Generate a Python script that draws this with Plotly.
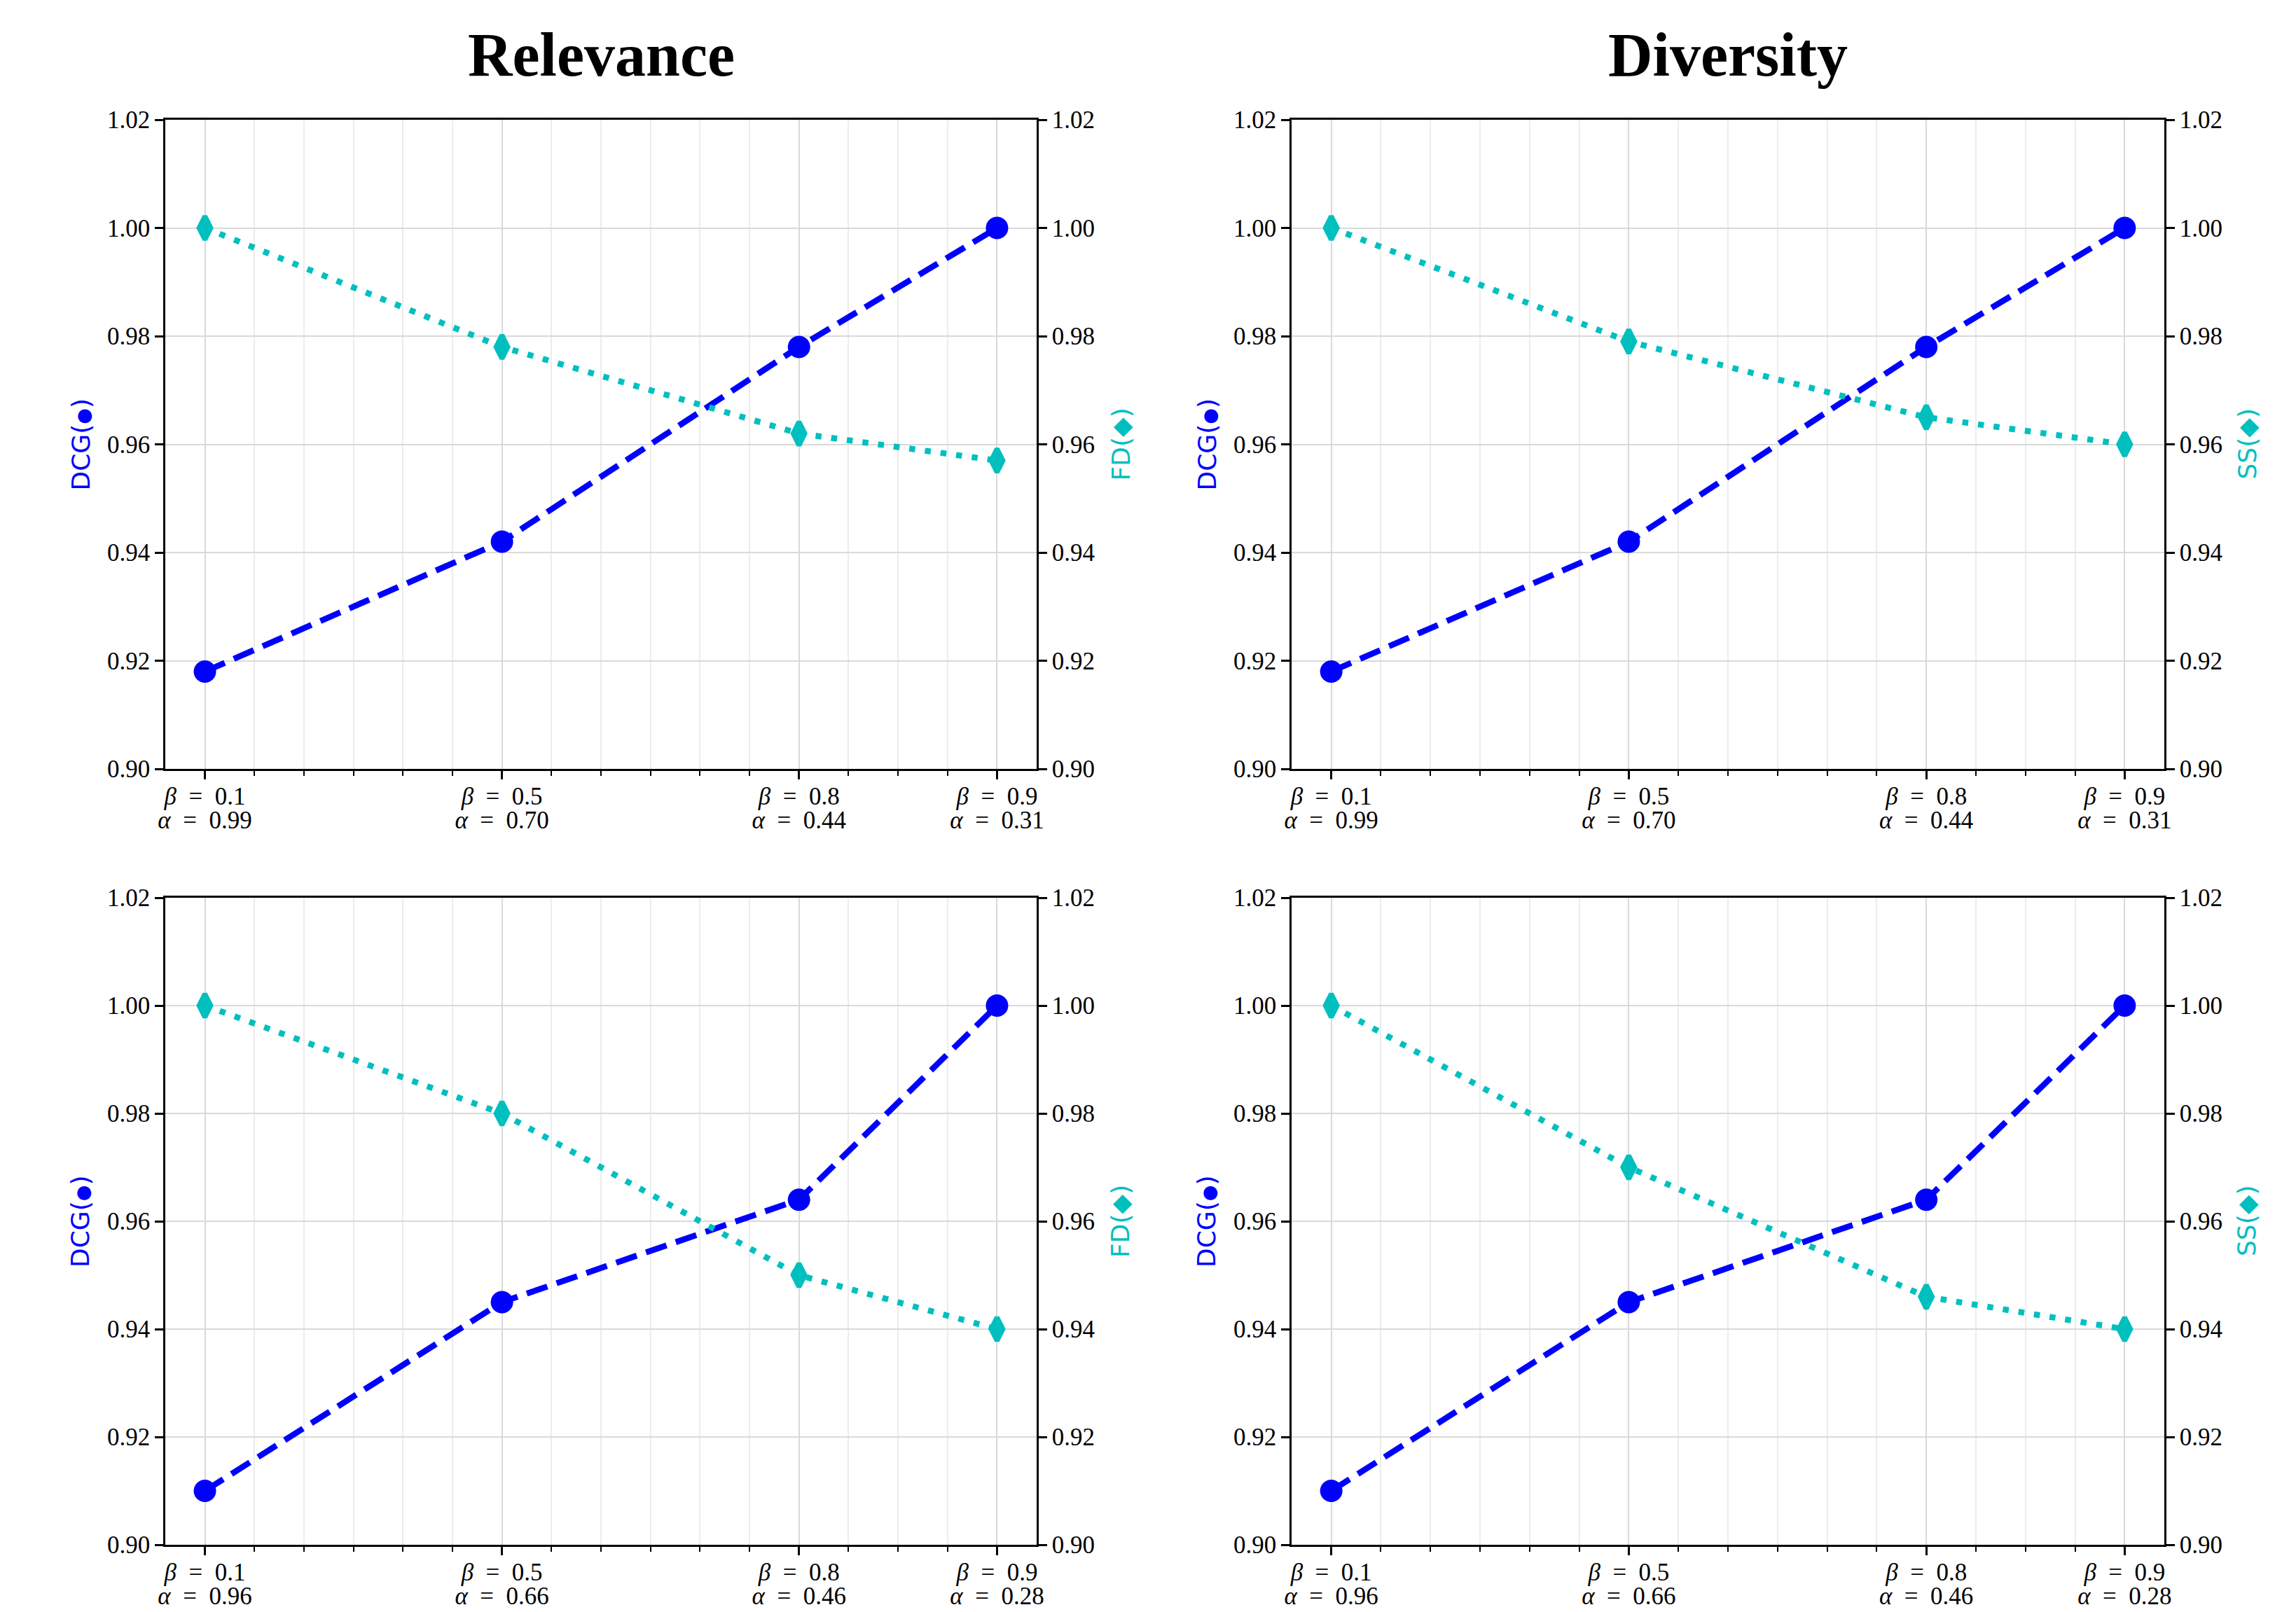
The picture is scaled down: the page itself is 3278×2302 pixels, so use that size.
import plotly.graph_objects as go

# ---------------- data ----------------
x_pos = [0, 6, 12, 16]
beta_labels = ["0.1", "0.5", "0.8", "0.9"]
alpha_top = ["0.99", "0.70", "0.44", "0.31"]
alpha_bottom = ["0.96", "0.66", "0.46", "0.28"]

dcg_rel_top = [0.918, 0.942, 0.978, 1.000]
fd_rel_top = [1.000, 0.978, 0.962, 0.957]
dcg_div_top = [0.918, 0.942, 0.978, 1.000]
ss_div_top = [1.000, 0.979, 0.965, 0.960]

dcg_rel_bot = [0.910, 0.945, 0.964, 1.000]
fd_rel_bot = [1.000, 0.980, 0.950, 0.940]
dcg_div_bot = [0.910, 0.945, 0.964, 1.000]
ss_div_bot = [1.000, 0.970, 0.946, 0.940]

y_ticks = [0.90, 0.92, 0.94, 0.96, 0.98, 1.00, 1.02]
col_titles = ["Relevance", "Diversity"]

# ---------------- style ----------------
W, H = 3278, 2302
OFF = 8  # default page body margin
BLUE = "#0000FF"
CYAN = "#00BFBF"
LW = 8.5
SERIF = "Liberation Serif, DejaVu Serif, serif"
SANS = "DejaVu Sans, sans-serif"
TICKFONT = dict(family=SERIF, size=35, color="black")

def px_x(p):
    return (p - OFF) / W

def px_y(p):
    return 1 - (p - OFF) / H

col_dom = [(px_x(236), px_x(1480)), (px_x(1844), px_x(3090))]
row_dom = [(px_y(1098), px_y(171)), (px_y(2206), px_y(1282))]

panels = [
    (0, 0, dcg_rel_top, fd_rel_top, "FD", alpha_top),
    (0, 1, dcg_div_top, ss_div_top, "SS", alpha_top),
    (1, 0, dcg_rel_bot, fd_rel_bot, "FD", alpha_bottom),
    (1, 1, dcg_div_bot, ss_div_bot, "SS", alpha_bottom),
]

fig = go.Figure()
layout = dict(
    width=W, height=H,
    margin=dict(l=0, r=0, t=0, b=0, pad=0),
    paper_bgcolor="white", plot_bgcolor="white",
    showlegend=False,
    annotations=[],
)

for i, (r, c, dcg, other, oname, alphas) in enumerate(panels):
    xi = i + 1
    xa = i + 5  # overlay axis carrying the alpha row of the tick labels
    yl = 2 * i + 1
    yr = 2 * i + 2
    xname = "x" if xi == 1 else f"x{xi}"
    ylname = "y" if yl == 1 else f"y{yl}"
    yrname = f"y{yr}"

    beta_text = [f"<i>β</i>  =  {b}" for b in beta_labels]
    alpha_text = [f"<i>α</i>  =  {a}" for a in alphas]
    span = x_pos[-1] - x_pos[0]
    xr = [x_pos[0] - 0.05 * span, x_pos[-1] + 0.05 * span]

    layout[f"xaxis{xi if xi > 1 else ''}"] = dict(
        domain=list(col_dom[c]), anchor=ylname, range=xr, automargin=False,
        tickmode="array", tickvals=x_pos, ticktext=beta_text,
        ticks="outside", ticklen=12, tickwidth=2.5, tickcolor="black",
        ticklabelstandoff=-6,
        showline=True, linecolor="black", linewidth=2.5, mirror=True,
        showgrid=True, gridcolor="#d9d9d9", gridwidth=2,
        zeroline=False, tickfont=TICKFONT,
        minor=dict(tickmode="linear", tick0=x_pos[0], dtick=1,
                   ticks="outside", ticklen=7, tickwidth=2, tickcolor="black",
                   showgrid=True, gridcolor="#ececec", gridwidth=2),
    )
    layout[f"xaxis{xa}"] = dict(
        overlaying=xname, anchor=ylname, side="bottom", range=xr, automargin=False,
        tickmode="array", tickvals=x_pos, ticktext=alpha_text,
        ticks="outside", ticklen=12, tickwidth=0, tickcolor="rgba(0,0,0,0)",
        ticklabelstandoff=30,
        showline=False, showgrid=False, zeroline=False, tickfont=TICKFONT,
    )
    layout[f"yaxis{yl if yl > 1 else ''}"] = dict(
        domain=list(row_dom[r]), anchor=xname, range=[0.90, 1.02], automargin=False,
        tickmode="array", tickvals=y_ticks, tickformat=".2f",
        ticks="outside", ticklen=12, tickwidth=2.5, tickcolor="black",
        showline=True, linecolor="black", linewidth=2.5,
        showgrid=True, gridcolor="#d9d9d9", gridwidth=2,
        zeroline=False, tickfont=TICKFONT,
    )
    layout[f"yaxis{yr}"] = dict(
        overlaying=ylname, anchor=xname, side="right", range=[0.90, 1.02], automargin=False,
        tickmode="array", tickvals=y_ticks, tickformat=".2f",
        ticks="outside", ticklen=12, tickwidth=2.5, tickcolor="black",
        showline=True, linecolor="black", linewidth=2.5,
        showgrid=False, zeroline=False, tickfont=TICKFONT,
    )

    fig.add_trace(go.Scatter(
        x=x_pos, y=dcg, xaxis=xname, yaxis=ylname, mode="lines+markers",
        line=dict(color=BLUE, width=LW, dash="31px,14px"),
        marker=dict(symbol="circle", size=32, color=BLUE),
        cliponaxis=False,
    ))
    fig.add_trace(go.Scatter(
        x=x_pos, y=other, xaxis=xname, yaxis=yrname, mode="lines+markers",
        line=dict(color=CYAN, width=LW, dash="8.5px,14px"),
        marker=dict(symbol="diamond-tall", size=24, color=CYAN,
                    line=dict(color=CYAN, width=7)),
        cliponaxis=False,
    ))
    # invisible trace binding the alpha overlay axis
    fig.add_trace(go.Scatter(
        x=x_pos, y=dcg, xaxis=f"x{xa}", yaxis=ylname, mode="markers",
        marker=dict(size=1, opacity=0), hoverinfo="skip",
    ))

    y0, y1 = row_dom[r]
    ymid = (y0 + y1) / 2
    layout["annotations"].append(dict(
        text="DCG(<span style='font-size:26px'>●</span>)",
        x=px_x(115) if c == 0 else px_x(115 + 1608), y=ymid,
        xref="paper", yref="paper", showarrow=False, textangle=-90,
        xanchor="center", yanchor="middle",
        font=dict(family=SANS, size=36, color=BLUE),
    ))
    layout["annotations"].append(dict(
        text=f"{oname}(◆)", x=px_x(1600) if c == 0 else px_x(1600 + 1608), y=ymid,
        xref="paper", yref="paper", showarrow=False, textangle=-90,
        xanchor="center", yanchor="middle",
        font=dict(family=SANS, size=36, color=CYAN),
    ))

for c, t in enumerate(col_titles):
    x0, x1 = col_dom[c]
    layout["annotations"].append(dict(
        text=f"<b>{t}</b>", x=(x0 + x1) / 2, y=px_y(79),
        xref="paper", yref="paper", showarrow=False,
        xanchor="center", yanchor="middle",
        font=dict(family=SERIF, size=88, color="black"),
    ))

fig.update_layout(**layout)
fig.write_html("out.html")
